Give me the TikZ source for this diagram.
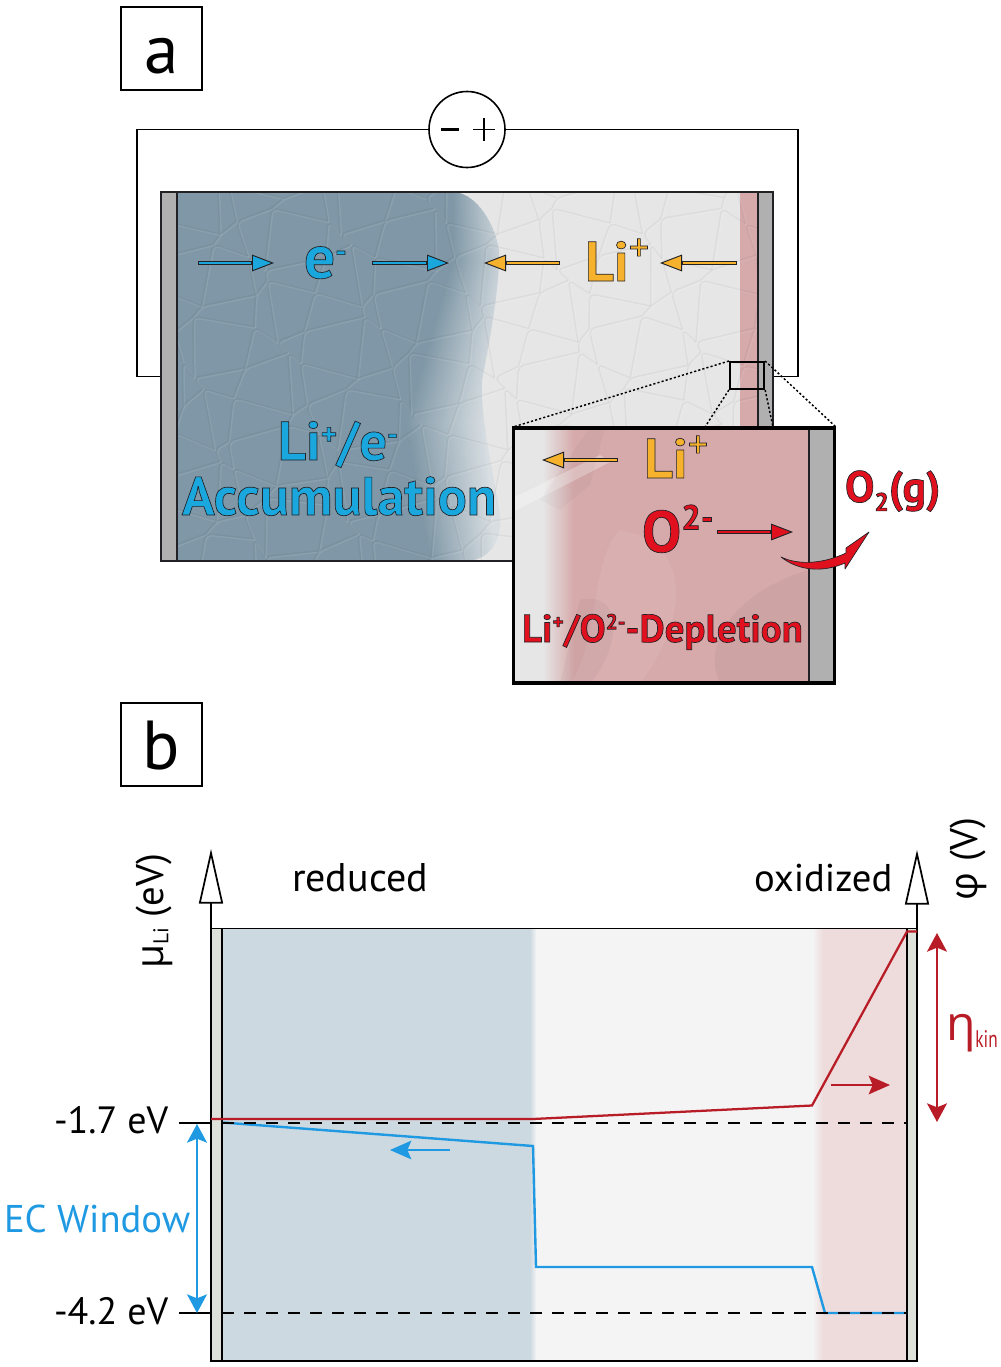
\documentclass[tikz,border=0pt]{standalone}
\usepackage{fontspec}
\usepackage{graphicx}
\setmainfont{PT Sans}
\newfontfamily\gk{Open Sans}
\usetikzlibrary{arrows.meta,calc}
\definecolor{cdark}{HTML}{222226}
\definecolor{cblue}{HTML}{7F97A6}
\definecolor{cfade}{HTML}{D8DEE2}
\definecolor{cgrey}{HTML}{E6E6E6}
\definecolor{cpink}{HTML}{D6A9AA}
\definecolor{celec}{HTML}{B0B0B0}
\definecolor{tblue}{HTML}{1AA7DE}
\definecolor{tyel}{HTML}{F6B12D}
\definecolor{tred}{HTML}{E0101E}
\definecolor{lred}{HTML}{B81C26}
\definecolor{lblue}{HTML}{1F9AE2}
\definecolor{bblue}{HTML}{CDD9E1}
\definecolor{bmid}{HTML}{F4F4F4}
\definecolor{bpink}{HTML}{EEDCDC}
\definecolor{belec}{HTML}{DDE1DA}
\newcommand\outl[2]{{\color{#1}\special{pdf:code 2 Tr 0.5 w 0.13 0.13 0.15 RG}#2\special{pdf:code 0 Tr}}}
\newcommand\fsz[1]{\fontsize{#1}{#1}\selectfont}
\newcommand\supr[3]{{\fsz{#1}\raisebox{#2}{#3}}}
\newcommand\outarr[3]{%
  \draw[line width=2.9pt,draw=cdark,-{Triangle[length=16.5pt,width=12.5pt,line width=.7pt,fill=#3,color=cdark]}] (#1) -- (#2);
  \draw[line width=1.9pt,draw=#3,shorten >=17pt,shorten <=.4pt] (#1) -- (#2);}
\tikzset{
  txt/.style={inner sep=0pt,outer sep=0pt,anchor=base west,text=black},
  labelbox/.style={draw=black,line width=1.1pt,fill=white,inner sep=0pt},
  wire/.style={draw=black,line width=1.2pt},
  elec/.style={fill=celec,draw=cdark,line width=1pt},
  dots/.style={draw=black,line width=1.1pt,dash pattern=on 1.6pt off 1.6pt},
  lev/.style={draw=black,line width=1.4pt,dash pattern=on 9pt off 7.5pt},
  tick/.style={draw=black,line width=1pt},
  axis/.style={draw=black,line width=1.5pt,-{Triangle[length=41pt,width=18pt,fill=white,line width=1.3pt]}},
  dbl/.style={line width=1.3pt,{Stealth[length=14pt,width=15pt,inset=3pt]}-{Stealth[length=14pt,width=15pt,inset=3pt]}},
  sgl/.style={line width=1.3pt,-{Stealth[length=16pt,width=14pt,inset=3pt]}},
}
\begin{document}
\begin{tikzpicture}[x=0.75pt,y=-0.75pt]
\useasboundingbox (0,0) rectangle (1000,1367);
% ---------- panel a ----------
\node[labelbox,minimum width=60.5pt,minimum height=62pt] (la) at (161.5,48.5) {};
\node[txt,anchor=base] (lat) at (161.5,73) {\fsz{52}a};
\coordinate (wl1) at (137,129.5); \coordinate (wl2) at (137,376.5); \coordinate (wl3) at (161,376.5);
\coordinate (wr1) at (798,129.5); \coordinate (wr2) at (798,376.5); \coordinate (wr3) at (773,376.5);
\node[draw=black,line width=1.2pt,fill=white,circle,minimum size=57pt,inner sep=0pt] (batt) at (467,129.5) {};
\draw[wire] (batt.west) -- (wl1) -- (wl2) -- (wl3);
\draw[wire] (batt.east) -- (wr1) -- (wr2) -- (wr3);
\coordinate (mi1) at (441,129.5); \coordinate (mi2) at (459,129.5);
\coordinate (pl1) at (473,129.5); \coordinate (pl2) at (495,129.5);
\coordinate (pl3) at (484,118); \coordinate (pl4) at (484,141);
\draw[line width=1.7pt] (mi1) -- (mi2);
\draw[line width=1.2pt] (pl1) -- (pl2) (pl3) -- (pl4);
% cell body
\fill[cgrey] (177,192) rectangle (758,561);
\begin{scope}
 \clip (177,192) -- (455,192) .. controls (478,195) and (495,225) .. (499,250) .. controls (500,280) and (492,330) .. (482,380) .. controls (480,420) and (495,480) .. (500,515) .. controls (502,540) and (490,561) .. (465,561) -- (177,561) -- cycle;
 \fill[cblue] (177,192) rectangle (420,561);
 \foreach \yy in {192,196,...,560}{
  \pgfmathsetmacro\ss{\yy<260 ? 452 : (\yy<420 ? 452-47*(\yy-260)/160 : 405+25*(\yy-420)/141)}
  \pgfmathsetmacro\ww{\yy<420 ? 50+30*(\yy-192)/228 : 80-15*(\yy-420)/141}
  \pgfmathsetmacro\ee{\ss+\ww}
  \fill[cblue] (400,\yy) rectangle (\ss+.5,\yy+4.4);
  \shade[left color=cblue,right color=cfade] (\ss,\yy) rectangle (\ee,\yy+4.4);
  \fill[cfade] (\ee-.5,\yy) rectangle (510,\yy+4.4);
 }
\end{scope}
\fill[cpink] (740,192) rectangle (758,561);
% grain texture
\begin{scope}
 \clip (177,192) rectangle (758,561);
 \foreach \i in {0,...,16}{\foreach \j in {0,...,10}{
  \pgfmathsetmacro\xa{170+36*\i+14*sin(127*\i+311*\j)}
  \pgfmathsetmacro\ya{185+36*\j+13*sin(269*\i+183*\j)}
  \pgfmathsetmacro\xb{170+36*(\i+1)+14*sin(127*(\i+1)+311*\j)}
  \pgfmathsetmacro\yb{185+36*\j+13*sin(269*(\i+1)+183*\j)}
  \pgfmathsetmacro\xc{170+36*\i+14*sin(127*\i+311*(\j+1))}
  \pgfmathsetmacro\yc{185+36*(\j+1)+13*sin(269*\i+183*(\j+1))}
  \draw[white,opacity=.09,line width=1.1pt,line join=round,rounded corners=4pt,shift={(1.5,1.5)}] (\xc,\yc) -- (\xa,\ya) -- (\xb,\yb);
  \draw[black,opacity=.04,line width=1.1pt,line join=round,rounded corners=4pt] (\xc,\yc) -- (\xa,\ya) -- (\xb,\yb);
 }}
\end{scope}
\draw[elec] (161,192) rectangle (177,561);
\draw[elec] (758,192) rectangle (773,561);
\draw[draw=cdark,line width=1pt] (161,192) -- (773,192) (161,561) -- (513,561);
% zoom box and dotted guides
\node[draw=black,line width=1.7pt,inner sep=0pt,minimum width=25.5pt,minimum height=20pt] (zb) at (747,375.5) {};
\coordinate (i1) at (513,427); \coordinate (i2) at (705,427); \coordinate (i3) at (773,427); \coordinate (i4) at (836,427);
\draw[dots] (zb.north west) -- (i1);
\draw[dots] (zb.south west) -- (i2);
\draw[dots] (zb.south east) -- (i3);
\draw[dots] (zb.north east) -- (i4);
% inset
\fill[cgrey] (513,427) rectangle (560,684);
\shade[left color=cgrey,right color=cpink] (543,427) rectangle (574,684);
\fill[cpink] (573.5,427) rectangle (809,684);
\begin{scope}
 \clip (513,427) rectangle (809,684);
 \fill[white,opacity=.3] (513,498) -- (600,455) -- (610,462) -- (513,512) -- cycle;
 \fill[black,opacity=.025] (590,427) -- (605,427) -- (590,485) -- (560,510) -- (540,500) -- cycle;
 \fill[black,opacity=.035] (720,684) .. controls (700,640) and (740,590) .. (809,570) -- (809,684) -- cycle;
 \fill[white,opacity=.08] (620,530) .. controls (680,540) and (700,600) .. (640,684) -- (570,684) .. controls (600,640) and (590,560) .. (620,530);
 \fill[black,opacity=.03] (580,600) .. controls (620,590) and (625,640) .. (590,684) -- (560,684) -- cycle;
\end{scope}
\fill[celec] (809,427) rectangle (835,684);
\draw[cdark,line width=1pt] (809,427) -- (809,684);
\node[draw=black,line width=2.6pt,inner sep=0pt,minimum width=240.75pt,minimum height=191.25pt] (inset) at (674,555.5) {};
% arrows of panel a
\coordinate (b1a) at (198,263); \coordinate (b1b) at (274,263);
\coordinate (b2a) at (372,263); \coordinate (b2b) at (449,263);
\coordinate (y1a) at (560,263); \coordinate (y1b) at (484,263);
\coordinate (y2a) at (737,263); \coordinate (y2b) at (660,263);
\coordinate (y3a) at (618,460); \coordinate (y3b) at (542,460);
\coordinate (r1a) at (717,532); \coordinate (r1b) at (793,532);
\outarr{b1a}{b1b}{tblue}
\outarr{b2a}{b2b}{tblue}
\outarr{y1a}{y1b}{tyel}
\outarr{y2a}{y2b}{tyel}
\outarr{y3a}{y3b}{tyel}
\outarr{r1a}{r1b}{tred}
\draw[fill=tred,draw=cdark,line width=.5pt,line join=round] (781,557) .. controls (800,572) and (825,572) .. (845,563) -- (845,569) -- (869,532) -- (846,548) -- (846,553) .. controls (825,563) and (800,566) .. cycle;
% coloured labels
\node[txt] (te) at (304,278) {\outl{tblue}{\fsz{46}\textbf{e}\supr{24}{.5em}{\textbf{-}}}};
\node[txt] (tli1) at (585,281) {\outl{tyel}{\fsz{42}\textbf{Li}\supr{30}{.5em}{+}}};
\node[txt] (tli2) at (644,478) {\outl{tyel}{\fsz{42}\textbf{Li}\supr{30}{.5em}{+}}};
\node[txt] (to) at (642,552) {\outl{tred}{\fsz{44}\textbf{O}\supr{26}{.65em}{\textbf{2-}}}};
\node[txt] (tog) at (845,502) {\outl{tred}{\fsz{33}\textbf{O}\supr{19}{-.35em}{\textbf{2}}\textbf{(g)}}};
\node[txt] (tdep) at (522,642) {\outl{tred}{\fsz{29.2}\textbf{Li}\supr{16}{.6em}{\textbf{+}}\textbf{/O}\supr{16}{.6em}{\textbf{2-}}\textbf{-Depletion}}};
\node[txt] (tacc) at (182,515) {\outl{tblue}{\fsz{40.6}\textbf{Accumulation}}};
\node[txt] (tlie) at (278,460) {\outl{tblue}{\fsz{41}\textbf{Li}\supr{23}{.5em}{\textbf{+}}\textbf{/e}\supr{23}{.5em}{\textbf{-}}}};
% ---------- panel b ----------
\node[labelbox,minimum width=60.5pt,minimum height=62pt] (lb) at (161.5,744.5) {};
\node[txt,anchor=base] (lbt) at (161.5,769) {\fsz{52}b};
\fill[bblue] (222,928) rectangle (531,1361);
\shade[left color=bblue,right color=bmid] (530,928) rectangle (536.5,1361);
\fill[bmid] (536,928) rectangle (813,1361);
\shade[left color=bmid,right color=bpink] (812.5,928) rectangle (823,1361);
\fill[bpink] (822.5,928) rectangle (907,1361);
\fill[belec] (211,928) rectangle (222,1361);
\fill[belec] (907,928) rectangle (917,1361);
\draw[black,line width=1pt] (222,928) -- (222,1361) (907,928) -- (907,1361);
\draw[black,line width=1.1pt] (211,928.5) -- (917,928.5);
\draw[black,line width=1.5pt] (211,1361) -- (917,1361);
\coordinate (axl0) at (211,1362); \coordinate (axl1) at (211,849);
\coordinate (axr0) at (917,1362); \coordinate (axr1) at (917,850);
\draw[axis] (axl0) -- (axl1);
\draw[axis] (axr0) -- (axr1);
\coordinate (t1a) at (179,1123); \coordinate (t1b) at (211,1123);
\coordinate (t2a) at (179,1313); \coordinate (t2b) at (211,1313);
\draw[tick] (t1a) -- (t1b);
\draw[tick] (t2a) -- (t2b);
% energy lines
\coordinate (bu1) at (223,1122.5); \coordinate (bu2) at (533,1146); \coordinate (bu3) at (536,1267);
\coordinate (bu4) at (812,1267); \coordinate (bu5) at (825,1313); \coordinate (bu6) at (907,1313);
\coordinate (re1) at (211,1119); \coordinate (re2) at (533,1119); \coordinate (re3) at (812,1105.5);
\coordinate (re4) at (907,931.5); \coordinate (re5) at (917,931.5);
\draw[lblue,line width=1.8pt,line join=miter] (bu1) -- (bu2) -- (bu3) -- (bu4) -- (bu5) -- (bu6);
\coordinate (d1a) at (222,1123); \coordinate (d1b) at (907,1123);
\coordinate (d2a) at (222,1313); \coordinate (d2b) at (907,1313);
\draw[lev] (d1a) -- (d1b);
\draw[lev] (d2a) -- (d2b);
\draw[lred,line width=1.7pt,line join=miter] (re1) -- (re2) -- (re3) -- (re4) -- (re5);
% arrows of panel b
\coordinate (ec1) at (197,1124); \coordinate (ec2) at (197,1313);
\draw[lblue,dbl] (ec1) -- (ec2);
\coordinate (kin1) at (937,933); \coordinate (kin2) at (937,1122);
\draw[lred,dbl] (kin1) -- (kin2);
\coordinate (sb1) at (450,1150); \coordinate (sb2) at (390,1150);
\draw[lblue,sgl] (sb1) -- (sb2);
\coordinate (sr1) at (831,1085); \coordinate (sr2) at (890,1085);
\draw[lred,sgl] (sr1) -- (sr2);
% labels of panel b
\node[txt] (n1) at (54,1133) {\fsz{28.5}-1.7 eV};
\node[txt] (n2) at (54,1324) {\fsz{28.5}-4.2 eV};
\node[txt,text=lblue] (n3) at (4,1232) {\fsz{29}EC Window};
\node[txt] (n4) at (292,891) {\fsz{30}reduced};
\node[txt] (n5) at (754,891) {\fsz{29}oxidized};
\node[txt,rotate=90] (n6) at (163,968) {\fsz{29}{\gk μ}\supr{16}{-.25em}{Li} (eV)};
\node[txt,rotate=90] (n7) at (977,900) {\fsz{29}{\gk φ} (V)};
\node[txt,text=lred] (n8) at (946,1040) {\fsz{36}{\gk η}\supr{18}{-.3em}{\scalebox{.72}[1]{kin}}};
\end{tikzpicture}
\end{document}
